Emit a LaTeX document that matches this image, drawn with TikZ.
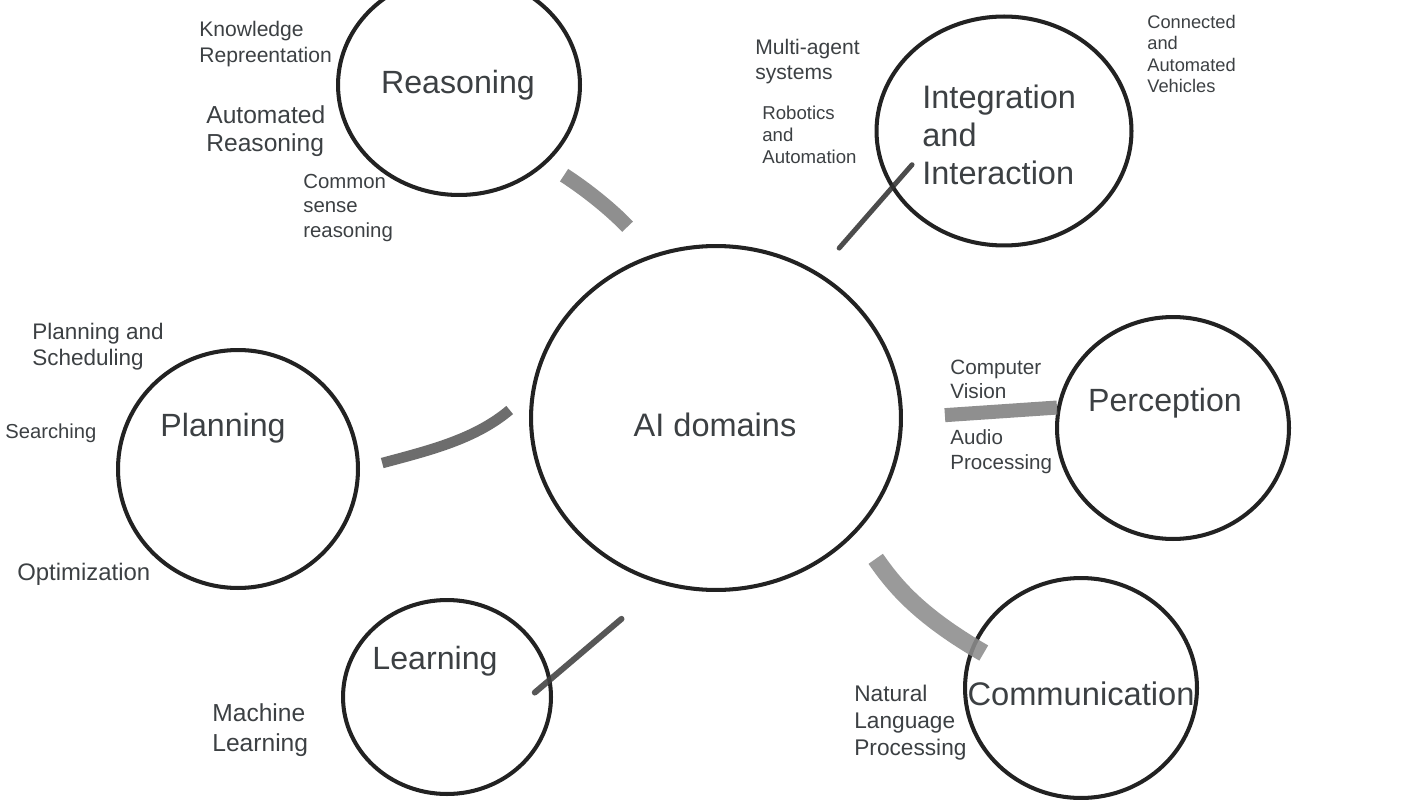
\documentclass[tikz,border=0pt]{standalone}
\usepackage{fontspec}
\setmainfont{Liberation Sans}
\usetikzlibrary{shapes.geometric}
\definecolor{txtgray}{HTML}{3C4043}
\definecolor{ringgray}{HTML}{222222}
\newcommand{\fsz}[2]{\fontsize{#1}{#2}\selectfont}

\begin{document}
\begin{tikzpicture}[
  x=0.02cm, y=0.02cm,
  dom/.style={ellipse, draw=ringgray, line width=2.3pt, inner sep=0pt},
  ttl/.style={text=txtgray, inner sep=0pt, font=\fsz{18.3}{21.5}},
  sub/.style={text=txtgray, inner sep=0pt, anchor=west, align=left},
  brsh/.style={line cap=butt, draw opacity=.88}
]
\useasboundingbox (0,0) rectangle (1422,-800);

% the domain rings
\node[dom, minimum width=7.4cm, minimum height=6.88cm] (ai) at (716,-418) {};
\node[dom, minimum width=4.84cm, minimum height=4.4cm] (reasoning) at (459,-85) {};
\node[dom, minimum width=5.1cm, minimum height=4.58cm] (integration) at (1004,-131) {};
\node[dom, minimum width=4.8cm, minimum height=4.76cm] (planning) at (238,-469) {};
\node[dom, minimum width=4.64cm, minimum height=4.44cm] (perception) at (1173,-428) {};
\node[dom, minimum width=4.16cm, minimum height=3.88cm] (learning) at (447,-697) {};
\node[dom, minimum width=4.64cm, minimum height=4.4cm] (communication) at (1081,-688) {};

% titles
\node[ttl, font=\fsz{18.5}{22}] (aiT) at (715,-425) {AI domains};
\node[ttl] (reasoningT) at (458,-85) {Reasoning};
\node[ttl, anchor=west, align=left, font=\fsz{18.5}{21.5}] (integrationT) at (922,-135)
  {Integration\\and\\Interaction};
\node[ttl] (planningT) at (223,-428) {Planning};
\node[ttl] (perceptionT) at (1165,-403) {Perception};
\node[ttl] (learningT) at (435,-661) {Learning};
\node[ttl, font=\fsz{18.6}{22}] (communicationT) at (1081,-694) {Communication};

% sub-domains
\node[sub, font=\fsz{12}{14.7}] (knowledge) at (199,-44) {Knowledge\\Repreentation};
\node[sub, font=\fsz{14}{15.9}] (autoreason) at (206,-131) {Automated\\Reasoning};
\node[sub, font=\fsz{11.6}{13.9}] (common) at (303,-208) {Common\\sense\\reasoning};
\node[sub, font=\fsz{12}{14.2}] (multiagent) at (755,-62) {Multi-agent\\systems};
\node[sub, font=\fsz{10.6}{12.5}] (robotics) at (762,-135) {Robotics\\and\\Automation};
\node[sub, font=\fsz{10.4}{12.2}] (vehicles) at (1147,-54) {Connected\\and\\Automated\\Vehicles};
\node[sub, font=\fsz{12.8}{14.7}] (scheduling) at (32,-347) {Planning and\\Scheduling};
\node[sub, font=\fsz{11.5}{14}] (searching) at (5,-433) {Searching};
\node[sub, font=\fsz{13.6}{16}] (optimization) at (17,-574) {Optimization};
\node[sub, font=\fsz{14}{17}] (machine) at (212,-730) {Machine\\Learning};
\node[sub, font=\fsz{11.8}{13.6}] (vision) at (950,-379) {Computer\\Vision};
\node[sub, font=\fsz{11.7}{14.2}] (audio) at (950,-452) {Audio\\Processing};
\node[sub, font=\fsz{12.9}{15.3}] (nlp) at (854,-723) {Natural\\Language\\Processing};

% brush strokes
\draw[brsh, draw=black!50, line width=8.5pt, shorten <=0.42cm, shorten >=0.75cm]
  (reasoning.-42) to[out=-33, in=133] (ai.111);
\draw[brsh, line cap=round, draw=black!80, line width=2.8pt, shorten <=0.64cm, shorten >=-0.63cm]
  (ai.55) -- (integration.207);
\draw[brsh, draw=black!65, line width=6pt, shorten <=0.46cm, shorten >=0.56cm]
  (planning.0) to[out=15, in=220] (ai.172);
\draw[brsh, draw=black!50, line width=8pt, shorten <=0.84cm]
  (ai.0) -- (perception.170);
\draw[brsh, line cap=round, draw=black!75, line width=3.4pt, shorten <=-0.43cm, shorten >=1.06cm]
  (learning.10) -- (ai.252);
\draw[brsh, draw=black!45, line width=10pt, shorten <=0.65cm, shorten >=-0.28cm]
  (ai.-39) to[out=-55, in=150] (communication.159);
\end{tikzpicture}
\end{document}
